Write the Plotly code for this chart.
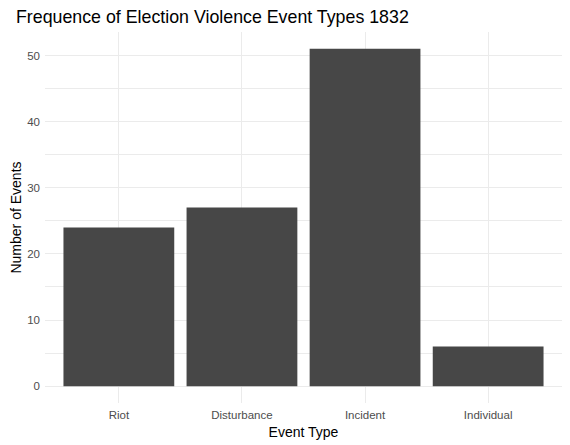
import plotly.graph_objects as go

event_types = ['Riot', 'Disturbance', 'Incident', 'Individual']
event_counts = [24, 27, 51, 6]
y_ticks = [0, 10, 20, 30, 40, 50]

# the page body keeps its 8px margin, so the figure is drawn 8px smaller
fig = go.Figure()
fig.add_trace(go.Bar(x=event_types, y=event_counts, marker_color='#474747',
                     marker_line_width=0, width=0.9))

fig.update_layout(
    width=562, height=437,
    plot_bgcolor='white', paper_bgcolor='white',
    margin=dict(l=37, r=8, t=24, b=42),
    font=dict(family='Liberation Sans, Arial', color='#4D4D4D', size=11.5),
    title=dict(text='Frequence of Election Violence Event Types 1832',
               xref='container', x=8/562, xanchor='left',
               yref='container', y=1 - 9/437, yanchor='middle',
               font=dict(size=17.8, color='black')),
    showlegend=False,
)
fig.update_xaxes(
    range=[-0.6, 3.6], showgrid=True, gridcolor='#EBEBEB', gridwidth=1.1,
    zeroline=False, ticks='', ticklabelstandoff=3, automargin=False,
    title=dict(text='Event Type', font=dict(size=14, color='black'), standoff=7),
)
fig.update_yaxes(
    range=[-2.55, 53.55], tickvals=y_ticks, showgrid=True, gridcolor='#EBEBEB',
    gridwidth=1.1, zeroline=False, ticks='', ticklabelstandoff=4, automargin=False,
    minor=dict(tickvals=[5, 15, 25, 35, 45], showgrid=True, gridcolor='#EBEBEB', gridwidth=0.6),
    title=dict(text='Number of Events', font=dict(size=14, color='black'), standoff=8),
)

fig.write_html('out.html')
